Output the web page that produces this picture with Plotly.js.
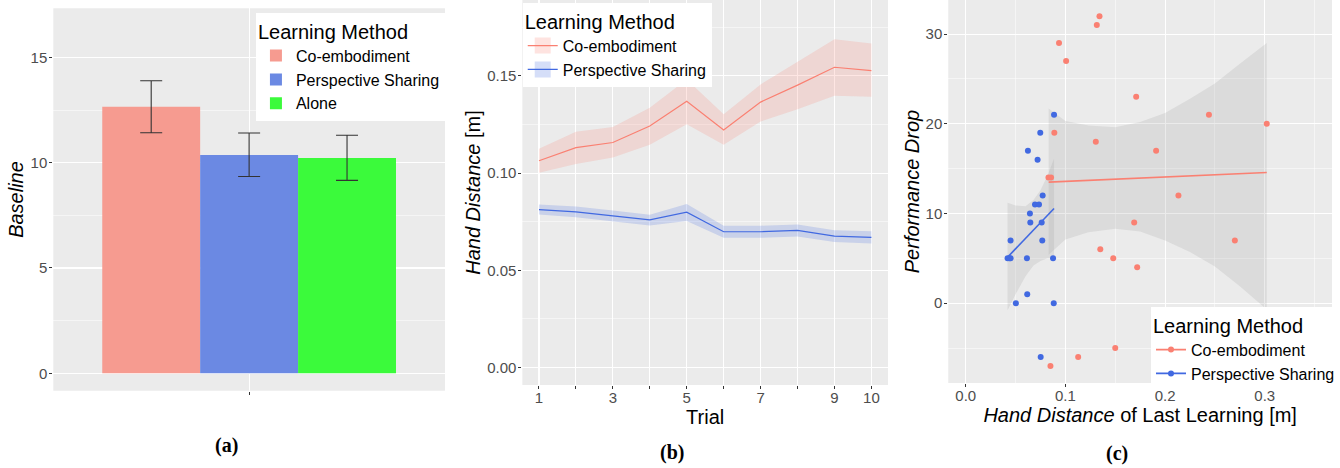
<!DOCTYPE html>
<html>
<head>
<meta charset="utf-8">
<script src="https://cdn.plot.ly/plotly-3.0.1.min.js"></script>
<style>html,body{margin:0;padding:0;background:#fff;}#chart{width:1340px;height:468px;}</style>
</head>
<body>
<div id="chart"></div>
<script>
// ---------- Panel (a): Baseline by learning method ----------
const methodsA = ['Co-embodiment', 'Perspective Sharing', 'Alone'];
const baselineMean = [12.66, 10.36, 10.22];
const baselineUpper = [13.89, 11.41, 11.30];
const baselineLower = [11.42, 9.34, 9.16];

// ---------- Panel (b): Hand distance per trial ----------
const trials = [1, 2, 3, 4, 5, 6, 7, 8, 9, 10];
const trialTickText = ['1', '', '3', '', '5', '', '7', '', '9', '10'];
const coMean  = [0.1063, 0.1131, 0.1157, 0.1242, 0.1369, 0.1222, 0.1365, 0.1452, 0.1544, 0.1527];
const coUpper = [0.1125, 0.1213, 0.1237, 0.1336, 0.1481, 0.1302, 0.1456, 0.1572, 0.1688, 0.1666];
const coLower = [0.1002, 0.1046, 0.1080, 0.1145, 0.1251, 0.1145, 0.1265, 0.1328, 0.1398, 0.1393];
const psMean  = [0.0812, 0.0800, 0.0780, 0.0759, 0.0799, 0.0698, 0.0698, 0.0705, 0.0676, 0.0669];
const psUpper = [0.0838, 0.0828, 0.0807, 0.0785, 0.0841, 0.0729, 0.0729, 0.0736, 0.0706, 0.0701];
const psLower = [0.0787, 0.0773, 0.0753, 0.0730, 0.0753, 0.0667, 0.0667, 0.0674, 0.0645, 0.0638];

// ---------- Panel (c): Performance drop vs hand distance ----------
const coX = [0.1342, 0.1315, 0.0936, 0.1007, 0.171, 0.244, 0.302, 0.0889, 0.1305, 0.191, 0.083, 0.0856, 0.2134, 0.169, 0.270, 0.135, 0.148, 0.172, 0.150, 0.1128, 0.085];
const coY = [32, 31, 29, 27, 23, 21, 20, 19, 18, 17, 14, 14, 12, 9, 7, 6, 5, 4, -5, -6, -7];
const psX = [0.0886, 0.0748, 0.0624, 0.0721, 0.0772, 0.0695, 0.0735, 0.0644, 0.0648, 0.0762, 0.045, 0.0768, 0.042, 0.044, 0.045, 0.0614, 0.0876, 0.0617, 0.0503, 0.0883, 0.0752];
const psY = [21, 19, 17, 16, 12, 11, 11, 10, 9, 9, 7, 7, 5, 5, 5, 5, 5, 1, 0, 0, -6];
const coFitX = [0.0832, 0.302];
const coFitY = [13.5, 14.57];
const psFitX = [0.042, 0.0886];
const psFitY = [5.13, 10.56];
const coBandX     = [0.0832, 0.100, 0.123, 0.150, 0.175, 0.200, 0.225, 0.250, 0.275, 0.302];
const coBandUpper = [21.7, 20.3, 19.8, 19.6, 20.2, 21.2, 22.8, 24.5, 26.7, 29.0];
const coBandLower = [5.4, 7.1, 7.9, 8.3, 8.0, 7.0, 5.7, 4.1, 1.9, -0.7];
const psBandX     = [0.042, 0.050, 0.060, 0.068, 0.075, 0.082, 0.0886];
const psBandUpper = [11.2, 10.9, 10.8, 11.5, 12.6, 14.2, 16.1];
const psBandLower = [-0.8, 1.0, 3.0, 4.2, 4.7, 5.0, 5.0];

// ---------- styles ----------
const FONT = 'Liberation Sans, Arial, sans-serif';
const SALMON = '#FA8072';
const ROYAL = '#4169E1';
const barColors = ['#F69B90', '#6B89E3', '#3BFA3B'];
const tickFont = {family: FONT, size: 15, color: '#4D4D4D'};
const titleFont = {family: FONT, size: 20, color: '#000'};

function band(x, up, lo) {
  return {x: x.concat(x.slice().reverse()), y: up.concat(lo.slice().reverse())};
}

const traces = [];

// (a) bars
methodsA.forEach((m, i) => {
  traces.push({
    type: 'bar', x: ['all'], y: [baselineMean[i]], name: m,
    marker: {color: barColors[i], line: {width: 0}},
    error_y: {type: 'data', symmetric: false,
      array: [baselineUpper[i] - baselineMean[i]],
      arrayminus: [baselineMean[i] - baselineLower[i]],
      color: '#333333', thickness: 1.1, width: 11},
    xaxis: 'x', yaxis: 'y', legend: 'legend', hoverinfo: 'skip'
  });
});

// (b) ribbons + lines
const coB = band(trials, coUpper, coLower);
const psB = band(trials, psUpper, psLower);
traces.push({type: 'scatter', mode: 'lines', x: coB.x, y: coB.y, fill: 'toself',
  fillcolor: 'rgba(250,128,114,0.2)', line: {width: 0}, showlegend: false,
  xaxis: 'x2', yaxis: 'y2', hoverinfo: 'skip'});
traces.push({type: 'scatter', mode: 'lines', x: psB.x, y: psB.y, fill: 'toself',
  fillcolor: 'rgba(65,105,225,0.2)', line: {width: 0}, showlegend: false,
  xaxis: 'x2', yaxis: 'y2', hoverinfo: 'skip'});
traces.push({type: 'scatter', mode: 'lines', x: trials, y: coMean, name: 'Co-embodiment',
  line: {color: SALMON, width: 1.2}, showlegend: false, xaxis: 'x2', yaxis: 'y2'});
traces.push({type: 'scatter', mode: 'lines', x: trials, y: psMean, name: 'Perspective Sharing',
  line: {color: ROYAL, width: 1.2}, showlegend: false, xaxis: 'x2', yaxis: 'y2'});
// legend keys for (b)
traces.push({type: 'scatter', mode: 'lines+markers', x: [null], y: [null], name: 'Co-embodiment',
  line: {color: SALMON, width: 1.2},
  marker: {symbol: 'square', size: 16, color: 'rgba(250,128,114,0.22)', line: {width: 0}},
  xaxis: 'x2', yaxis: 'y2', legend: 'legend2'});
traces.push({type: 'scatter', mode: 'lines+markers', x: [null], y: [null], name: 'Perspective Sharing',
  line: {color: ROYAL, width: 1.2},
  marker: {symbol: 'square', size: 16, color: 'rgba(65,105,225,0.22)', line: {width: 0}},
  xaxis: 'x2', yaxis: 'y2', legend: 'legend2'});

// (c) confidence bands, points, fit lines
const coC = band(coBandX, coBandUpper, coBandLower);
const psC = band(psBandX, psBandUpper, psBandLower);
traces.push({type: 'scatter', mode: 'lines', x: coC.x, y: coC.y, fill: 'toself',
  fillcolor: 'rgba(153,153,153,0.2)', line: {width: 0}, showlegend: false,
  xaxis: 'x3', yaxis: 'y3', hoverinfo: 'skip'});
traces.push({type: 'scatter', mode: 'lines', x: psC.x, y: psC.y, fill: 'toself',
  fillcolor: 'rgba(153,153,153,0.2)', line: {width: 0}, showlegend: false,
  xaxis: 'x3', yaxis: 'y3', hoverinfo: 'skip'});
traces.push({type: 'scatter', mode: 'markers', x: coX, y: coY, name: 'Co-embodiment',
  marker: {color: SALMON, size: 6}, showlegend: false, xaxis: 'x3', yaxis: 'y3'});
traces.push({type: 'scatter', mode: 'markers', x: psX, y: psY, name: 'Perspective Sharing',
  marker: {color: ROYAL, size: 6}, showlegend: false, xaxis: 'x3', yaxis: 'y3'});
traces.push({type: 'scatter', mode: 'lines', x: coFitX, y: coFitY, name: 'Co-embodiment',
  line: {color: SALMON, width: 1.6}, showlegend: false, xaxis: 'x3', yaxis: 'y3'});
traces.push({type: 'scatter', mode: 'lines', x: psFitX, y: psFitY, name: 'Perspective Sharing',
  line: {color: ROYAL, width: 1.6}, showlegend: false, xaxis: 'x3', yaxis: 'y3'});
traces.push({type: 'scatter', mode: 'lines+markers', x: [null], y: [null], name: 'Co-embodiment',
  line: {color: SALMON, width: 1.6}, marker: {color: SALMON, size: 6},
  xaxis: 'x3', yaxis: 'y3', legend: 'legend3'});
traces.push({type: 'scatter', mode: 'lines+markers', x: [null], y: [null], name: 'Perspective Sharing',
  line: {color: ROYAL, width: 1.6}, marker: {color: ROYAL, size: 6},
  xaxis: 'x3', yaxis: 'y3', legend: 'legend3'});

const baseAxis = {
  showgrid: true, gridcolor: '#FFFFFF', gridwidth: 1.1, zeroline: false, showline: false,
  ticks: 'outside', ticklen: 3, tickwidth: 1, tickcolor: '#333333', tickfont: tickFont
};
const xAxisBase = Object.assign({}, baseAxis, {ticklabelstandoff: -4});
const yAxisBase = Object.assign({}, baseAxis, {ticklabelstandoff: -1});
const minorGrid = (d) => ({dtick: d, showgrid: true, gridcolor: '#FFFFFF', gridwidth: 0.5, ticklen: 0});

function legendCfg(x, y) {
  return {
    x: x, y: y, xanchor: 'left', yanchor: 'top', xref: 'paper', yref: 'paper',
    bgcolor: '#FFFFFF', borderwidth: 0, traceorder: 'normal',
    font: {family: FONT, size: 16, color: '#000'},
    title: {text: 'Learning Method', font: {family: FONT, size: 20, color: '#000'}, side: 'top'},
    tracegroupgap: 0, itemwidth: 30
  };
}

const layout = {
  width: 1340, height: 468,
  margin: {l: 0, r: 0, t: 0, b: 0},
  paper_bgcolor: '#FFFFFF', plot_bgcolor: '#EBEBEB',
  font: {family: FONT},
  barmode: 'group', bargap: 0.1, bargroupgap: 0,
  showlegend: true,
  xaxis: Object.assign({}, xAxisBase, {
    domain: [0.0398, 0.3323], anchor: 'y', type: 'category',
    range: [-0.6, 0.6], showticklabels: false
  }),
  yaxis: Object.assign({}, yAxisBase, {
    domain: [0.1651, 0.9823], anchor: 'x', range: [-0.83, 17.33],
    tickvals: [0, 5, 10, 15], minor: minorGrid(2.5),
    title: {text: '<i>Baseline</i>', font: titleFont, standoff: 1}
  }),
  xaxis2: Object.assign({}, xAxisBase, {
    domain: [0.3901, 0.6632], anchor: 'y2', range: [0.55, 10.45],
    tickvals: trials, ticktext: trialTickText,
    title: {text: 'Trial', font: titleFont, standoff: 2}
  }),
  yaxis2: Object.assign({}, yAxisBase, {
    domain: [0.1774, 1], anchor: 'x2', range: [-0.009, 0.189],
    tickvals: [0, 0.05, 0.1, 0.15], ticktext: ['0.00', '0.05', '0.10', '0.15'],
    minor: minorGrid(0.025),
    title: {text: '<i>Hand Distance</i> [m]', font: titleFont, standoff: 1}
  }),
  xaxis3: Object.assign({}, xAxisBase, {
    domain: [0.7082, 0.9948], anchor: 'y3', range: [-0.0175, 0.3675],
    tickvals: [0, 0.1, 0.2, 0.3], ticktext: ['0.0', '0.1', '0.2', '0.3'],
    minor: minorGrid(0.05),
    title: {text: '<i>Hand Distance</i> of Last Learning [m]', font: titleFont, standoff: 1}
  }),
  yaxis3: Object.assign({}, yAxisBase, {
    domain: [0.1816, 1], anchor: 'x3', range: [-8.9, 33.8],
    tickvals: [0, 10, 20, 30], minor: minorGrid(5),
    title: {text: '<i>Performance Drop</i>', font: titleFont, standoff: 0}
  }),
  legend: legendCfg(0.1910, 0.9729),
  legend2: legendCfg(0.3901, 0.9942),
  legend3: legendCfg(0.8597, 0.3447),
  annotations: [
    {text: '<b>(a)</b>', x: 0.1692, y: 0.0491, xref: 'paper', yref: 'paper', showarrow: false,
     xanchor: 'center', yanchor: 'middle', font: {family: 'Liberation Serif, Times New Roman, serif', size: 20, color: '#000'}},
    {text: '<b>(b)</b>', x: 0.5022, y: 0.0321, xref: 'paper', yref: 'paper', showarrow: false,
     xanchor: 'center', yanchor: 'middle', font: {family: 'Liberation Serif, Times New Roman, serif', size: 20, color: '#000'}},
    {text: '<b>(c)</b>', x: 0.8341, y: 0.0314, xref: 'paper', yref: 'paper', showarrow: false,
     xanchor: 'center', yanchor: 'middle', font: {family: 'Liberation Serif, Times New Roman, serif', size: 20, color: '#000'}}
  ]
};

Plotly.newPlot('chart', traces, layout, {staticPlot: true, displayModeBar: false});
</script>
</body>
</html>
